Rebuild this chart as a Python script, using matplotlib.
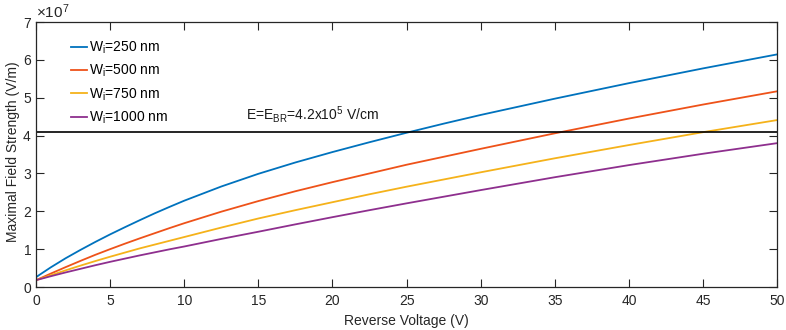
import matplotlib
matplotlib.use('Agg')
import matplotlib.pyplot as plt
from matplotlib.ticker import ScalarFormatter

plt.rcParams['font.family'] = ['Liberation Sans', 'DejaVu Sans']
plt.rcParams['mathtext.fontset'] = 'custom'
plt.rcParams['mathtext.rm'] = 'Liberation Sans'

# Reverse voltage (V) and maximal field (units of 1e7 V/m)
voltage = [0, 1, 2, 3, 4, 5, 6, 7, 8, 9, 10, 12.5, 15, 17.5, 20, 22.5, 25, 27.5, 30, 35, 40, 45, 50]
e_250 = [0.26, 0.52, 0.76, 0.98, 1.19, 1.39, 1.58, 1.765, 1.945, 2.115, 2.28, 2.655, 2.99, 3.29,
         3.565, 3.825, 4.075, 4.315, 4.545, 4.975, 5.385, 5.775, 6.145]
e_500 = [0.18, 0.355, 0.525, 0.69, 0.85, 1.0, 1.145, 1.285, 1.42, 1.555, 1.685, 1.99, 2.27, 2.53,
         2.77, 3.0, 3.23, 3.44, 3.65, 4.06, 4.45, 4.82, 5.17]
e_750 = [0.18, 0.31, 0.44, 0.565, 0.685, 0.80, 0.91, 1.02, 1.12, 1.22, 1.32, 1.57, 1.81, 2.03,
         2.24, 2.45, 2.65, 2.84, 3.03, 3.40, 3.75, 4.09, 4.41]
e_1000 = [0.18, 0.285, 0.385, 0.48, 0.575, 0.665, 0.75, 0.835, 0.915, 0.995, 1.07, 1.27, 1.46, 1.655,
          1.845, 2.03, 2.21, 2.385, 2.56, 2.90, 3.22, 3.52, 3.80]
labels = ['250', '500', '750', '1000']
e_br = 4.1  # level of the breakdown line as drawn

colors = ['#0072BD', '#EE5219', '#F5B21A', '#8E2F8E']

fig = plt.figure(figsize=(7.86, 3.30), dpi=100, facecolor='white')
ax = fig.add_axes([0.0458, 0.1303, 0.943, 0.803])

for vals, lab, c in zip([e_250, e_500, e_750, e_1000], labels, colors):
    ax.plot(voltage, [v * 1e7 for v in vals], color=c, linewidth=1.3,
            label=r'W$_\mathregular{i}$=' + lab + ' nm')

ax.axhline(e_br * 1e7, color='black', linewidth=1.2)
ax.text(14.2, 4.57e7, r'E=E$_\mathregular{BR}$=4.2x10$^\mathregular{5}$ V/cm',
        fontsize=10, va='center', ha='left', color='#1a1a1a')

ax.set_xlim(0, 50)
ax.set_ylim(0, 7e7)
ax.set_xticks(range(0, 51, 5))
ax.set_yticks([i * 1e7 for i in range(8)])

fmt = ScalarFormatter(useMathText=True)
fmt.set_powerlimits((0, 0))
ax.yaxis.set_major_formatter(fmt)
ax.yaxis.get_offset_text().set_fontsize(11)
ax.yaxis.get_offset_text().set_color('#404040')

ax.tick_params(direction='in', length=5.5, width=0.8, top=True, right=True,
               labelsize=10, colors='#262626', labelcolor='#262626', pad=5)
ax.tick_params(axis='y', pad=3)
for s in ax.spines.values():
    s.set_color('#262626')
    s.set_linewidth(0.9)

ax.set_xlabel('Reverse Voltage (V)', fontsize=10, color='#262626', labelpad=4)
ax.set_ylabel('Maximal Field Strength (V/m)', fontsize=10, color='#262626')
ax.yaxis.set_label_coords(-0.021, 0.51)

ax.legend(loc='upper left', frameon=False, fontsize=10, handlelength=1.2,
          handletextpad=0.15, labelspacing=0.5, bbox_to_anchor=(0.0297, 0.981))

fig.savefig('out.png', dpi=100, facecolor='white')
